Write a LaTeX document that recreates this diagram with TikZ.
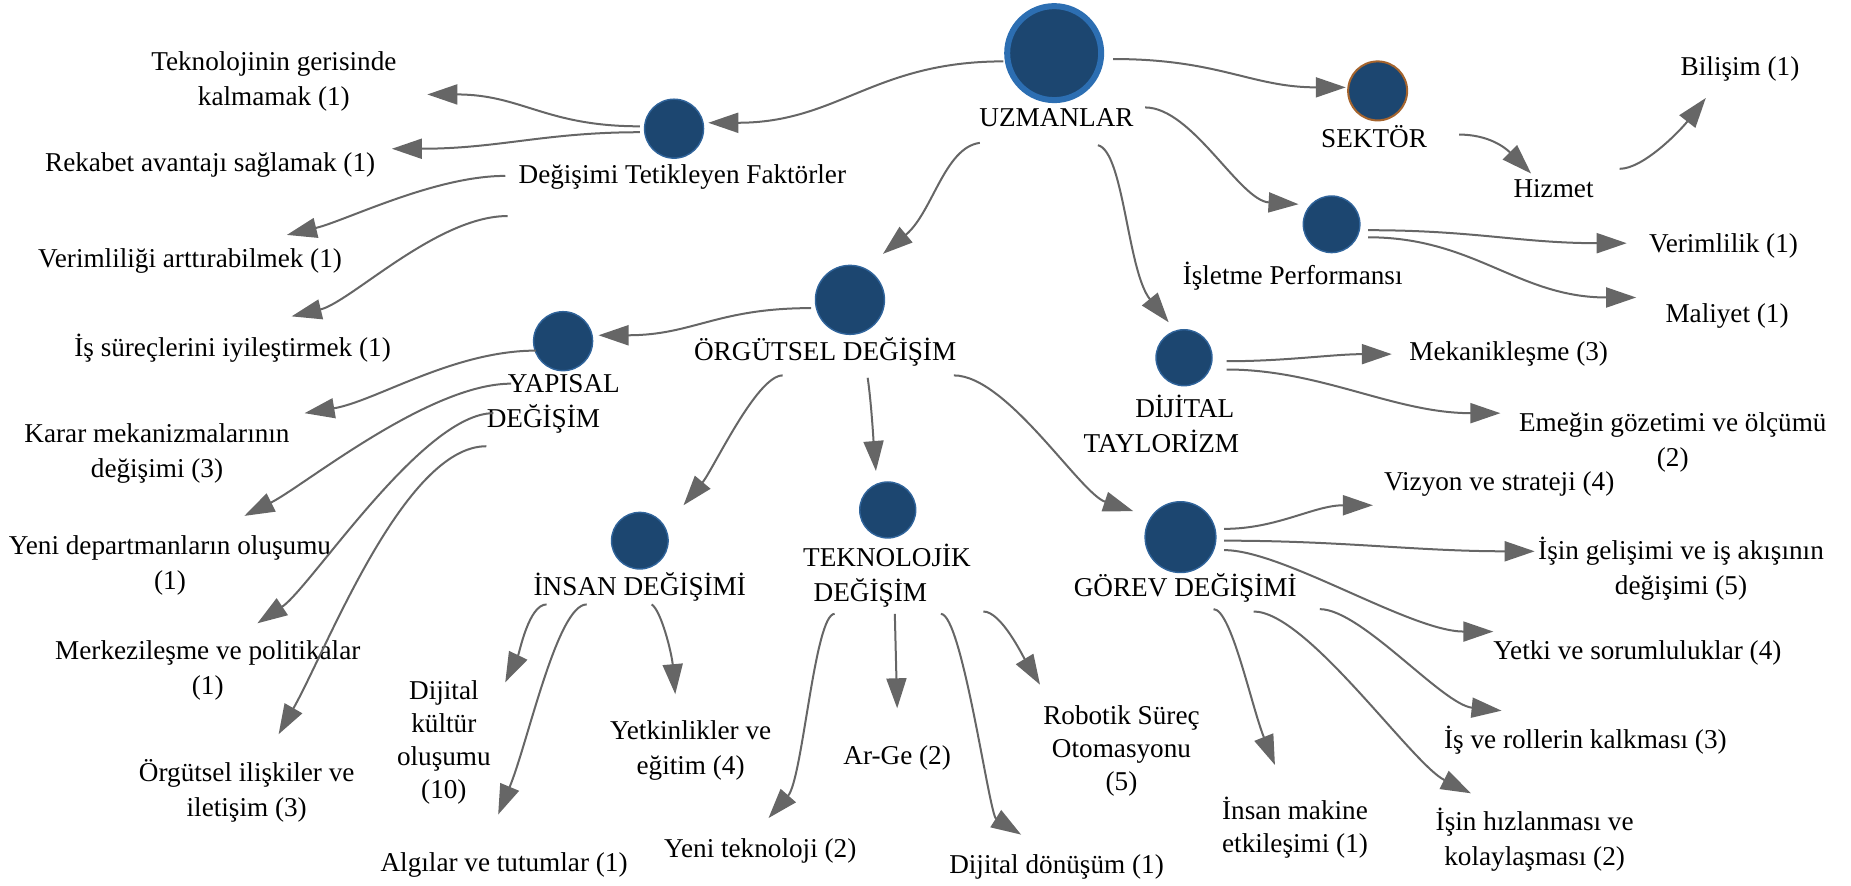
\documentclass[tikz,border=0pt]{standalone}
\usepackage{fontspec}
\setmainfont{Liberation Serif}
\usetikzlibrary{arrows.meta}
\definecolor{hubfill}{RGB}{28,70,112}
\definecolor{hubedge}{RGB}{48,100,155}
\definecolor{ringblue}{RGB}{44,110,178}
\definecolor{sekedge}{RGB}{165,100,45}
\definecolor{linkgray}{RGB}{102,102,102}

\begin{document}
\begin{tikzpicture}[x=0.59025pt,y=-0.59025pt,
  hub/.style={circle,fill=hubfill,draw=hubedge,line width=0.7pt,inner sep=0pt},
  lbl/.style={inner sep=0pt,align=center,font=\fontsize{13.6pt}{17.5pt}\selectfont},
  tight/.style={font=\fontsize{13.6pt}{16.5pt}\selectfont},
  link/.style={draw=linkgray,line width=1pt,-{Triangle[length=15pt,width=10pt]}}]

\path[use as bounding box] (0,0) rectangle (1568,750);

% hubs
\node[hub,minimum size=47pt,draw=ringblue,line width=3pt] (uzm) at (893,45) {};
\node[hub,minimum size=29.5pt,draw=sekedge,line width=1pt] (sek) at (1167,77) {};
\node[hub,minimum size=28.3pt] (isl) at (1128,190) {};
\node[hub,minimum size=29.5pt] (dtf) at (571,109) {};
\node[hub,minimum size=34.5pt] (org) at (720,254) {};
\node[hub,minimum size=29.5pt] (yap) at (477,289) {};
\node[hub,minimum size=28pt] (dij) at (1003,303) {};
\node[hub,minimum size=28.3pt] (ins) at (542,458) {};
\node[hub,minimum size=28pt] (tek) at (752,432) {};
\node[hub,minimum size=35.4pt] (gor) at (1000,455) {};

% labels
\node[lbl] (uzmL) at (895,100) {UZMANLAR};
\node[lbl] (sekL) at (1164,116) {SEKTÖR};
\node[lbl] (hizL) at (1316,160) {Hizmet};
\node[lbl] (bilL) at (1474,58) {Bilişim (1)};
\node[lbl] (islL) at (1095,234) {İşletme Performansı};
\node[lbl] (verL) at (1460,208) {Verimlilik (1)};
\node[lbl] (malL) at (1463,268) {Maliyet (1)};
\node[lbl] (dtfL) at (578,150) {Değişimi Tetikleyen Faktörler};
\node[lbl] (tgL) at (232,69) {Teknolojinin gerisinde\\kalmamak (1)};
\node[lbl] (rekL) at (178,140) {Rekabet avantajı sağlamak (1)};
\node[lbl] (vaL) at (161,221) {Verimliliği arttırabilmek (1)};
\node[lbl] (isL) at (197,295) {İş süreçlerini iyileştirmek (1)};
\node[lbl] (orgL) at (699,298) {ÖRGÜTSEL DEĞİŞİM};
\node[lbl,align=left,anchor=west] (yapL) at (412,342) {\hspace*{10.6pt}YAPISAL\\DEĞİŞİM};
\node[lbl] (karL) at (133,384) {Karar mekanizmalarının\\değişimi (3)};
\node[lbl] (yenL) at (144,479) {Yeni departmanların oluşumu\\(1)};
\node[lbl] (merL) at (176,568) {Merkezileşme ve politikalar\\(1)};
\node[lbl] (oiL) at (209,670) {Örgütsel ilişkiler ve\\iletişim (3)};
\node[lbl,align=right,anchor=east] (dijL) at (1050,359) {DİJİTAL\hspace*{2.4pt}\\TAYLORİZM};
\node[lbl] (mekL) at (1278,300) {Mekanikleşme (3)};
\node[lbl] (emL) at (1417,375) {Emeğin gözetimi ve ölçümü\\(2)};
\node[lbl] (insL) at (542,497) {İNSAN DEĞİŞİMİ};
\node[lbl,tight] (dkL) at (376,629) {Dijital\\kültür\\oluşumu\\(10)};
\node[lbl] (algL) at (427,733) {Algılar ve tutumlar (1)};
\node[lbl] (ykL) at (585,636) {Yetkinlikler ve\\eğitim (4)};
\node[lbl,align=left,anchor=west] (tekL) at (680,488) {TEKNOLOJİK\\\hspace*{5.3pt}DEĞİŞİM};
\node[lbl] (ytL) at (644,721) {Yeni teknoloji (2)};
\node[lbl] (agL) at (760,642) {Ar-Ge (2)};
\node[lbl] (ddL) at (895,734) {Dijital dönüşüm (1)};
\node[lbl,tight] (robL) at (950,636) {Robotik Süreç\\Otomasyonu\\(5)};
\node[lbl] (gorL) at (1004,498) {GÖREV DEĞİŞİMİ};
\node[lbl] (vizL) at (1270,410) {Vizyon ve strateji (4)};
\node[lbl] (igL) at (1424,482) {İşin gelişimi ve iş akışının\\değişimi (5)};
\node[lbl] (yetL) at (1387,553) {Yetki ve sorumluluklar (4)};
\node[lbl] (irL) at (1343,627) {İş ve rollerin kalkması (3)};
\node[lbl] (ihL) at (1300,711) {İşin hızlanması ve\\kolaylaşması (2)};
\node[lbl,tight] (imL) at (1097,701) {İnsan makine\\etkileşimi (1)};

% UZMANLAR
\draw[link] ([shift={(-43,7)}]uzm.center) .. controls +(-110,0) and +(110,0) .. ([shift={(29,-5)}]dtf.center);
\draw[link] ([shift={(50,5)}]uzm.center) .. controls +(90,0) and +(-80,0) .. ([shift={(-27,-3)}]sek.center);
\draw[link] ([shift={(75,-9)}]uzmL.center) .. controls +(40,0) and +(-50,-3) .. ([shift={(-28,-17)}]isl.center);
\draw[link] ([shift={(-65,21)}]uzmL.center) .. controls +(-30,4) and +(42,-35) .. ([shift={(28,-39)}]org.center);
\draw[link] ([shift={(35,23)}]uzmL.center) .. controls +(22,5) and +(-35,-43) .. ([shift={(-13,-30)}]dij.center);

% Değişimi Tetikleyen Faktörler
\draw[link] ([shift={(-29,-2)}]dtf.center) .. controls +(-80,0) and +(80,0) .. ([shift={(130,11)}]tgL.center);
\draw[link] ([shift={(-29,3)}]dtf.center) .. controls +(-80,0) and +(90,0) .. ([shift={(154,-14)}]rekL.center);
\draw[link] ([shift={(-150,-1)}]dtfL.center) .. controls +(-60,0) and +(50,-12) .. ([shift={(82,-22)}]vaL.center);
\draw[link] ([shift={(-148,33)}]dtfL.center) .. controls +(-60,0) and +(50,-12) .. ([shift={(50,-27)}]isL.center);

% SEKTÖR
\draw[link] ([shift={(72,-2)}]sekL.center) .. controls +(25,0) and +(-22,-22) .. ([shift={(-19,-13)}]hizL.center);
\draw[link] ([shift={(56,-17)}]hizL.center) .. controls +(20,0) and +(-22,28) .. ([shift={(-29,25)}]bilL.center);

% İşletme Performansı
\draw[link] ([shift={(31,5)}]isl.center) .. controls +(90,0) and +(-90,0) .. ([shift={(-82,-2)}]verL.center);
\draw[link] ([shift={(31,11)}]isl.center) .. controls +(90,0) and +(-100,0) .. ([shift={(-77,-16)}]malL.center);

% ÖRGÜTSEL DEĞİŞİM
\draw[link] ([shift={(-33,7)}]org.center) .. controls +(-80,0) and +(80,0) .. ([shift={(30,-5)}]yap.center);
\draw[link] ([shift={(-36,20)}]orgL.center) .. controls +(-22,0) and +(25,-30) .. ([shift={(37,-30)}]ins.center);
\draw[link] ([shift={(36,22)}]orgL.center) .. controls +(3,20) and +(-2,-25) .. ([shift={(-10,-33)}]tek.center);
\draw[link] ([shift={(109,20)}]orgL.center) .. controls +(45,0) and +(-45,-15) .. ([shift={(-40,-22)}]gor.center);

% YAPISAL DEĞİŞİM
\draw[link] ([shift={(-23,8)}]yap.center) .. controls +(-70,0) and +(60,-10) .. ([shift={(125,-34)}]karL.center);
\draw[link] ([shift={(21,-17)}]yapL.west) .. controls +(-70,0) and +(50,-25) .. ([shift={(63,-42)}]yenL.center);
\draw[link] ([shift={(6,8)}]yapL.west) .. controls +(-60,0) and +(45,-30) .. ([shift={(42,-40)}]merL.center);
\draw[link] ([shift={(0,36)}]yapL.west) .. controls +(-70,0) and +(40,-70) .. ([shift={(27,-48)}]oiL.center);

% DİJİTAL TAYLORİZM
\draw[link] ([shift={(36,3)}]dij.center) .. controls +(50,0) and +(-50,0) .. ([shift={(-99,0)}]mekL.center);
\draw[link] ([shift={(36,10)}]dij.center) .. controls +(80,0) and +(-90,0) .. ([shift={(-146,-25)}]emL.center);

% İNSAN DEĞİŞİMİ
\draw[link] ([shift={(-79,15)}]insL.center) .. controls +(-15,0) and +(12,-25) .. ([shift={(52,-51)}]dkL.center);
\draw[link] ([shift={(-45,15)}]insL.center) .. controls +(-25,0) and +(25,-60) .. ([shift={(-5,-43)}]algL.center);
\draw[link] ([shift={(10,15)}]insL.center) .. controls +(8,5) and +(-3,-35) .. ([shift={(-13,-48)}]ykL.center);

% TEKNOLOJİK DEĞİŞİM
\draw[link] ([shift={(27,32)}]tekL.west) .. controls +(-17,0) and +(29,-33) .. ([shift={(7,-28)}]ytL.center);
\draw[link] ([shift={(78,32)}]tekL.west) -- ([shift={(0,-42)}]agL.center);
\draw[link] ([shift={(117,32)}]tekL.west) .. controls +(18,0) and +(-27,-17) .. ([shift={(-30,-27)}]ddL.center);
\draw[link] ([shift={(153,30)}]tekL.west) .. controls +(15,0) and +(-15,-25) .. ([shift={(-69,-56)}]robL.center);

% GÖREV DEĞİŞİMİ
\draw[link] ([shift={(37,-7)}]gor.center) .. controls +(45,0) and +(-50,0) .. ([shift={(-107,18)}]vizL.center);
\draw[link] ([shift={(37,3)}]gor.center) .. controls +(100,0) and +(-100,0) .. ([shift={(-124,-15)}]igL.center);
\draw[link] ([shift={(37,11)}]gor.center) .. controls +(50,0) and +(-70,0) .. ([shift={(-122,-18)}]yetL.center);
\draw[link] ([shift={(114,18)}]gorL.center) .. controls +(35,0) and +(-50,-5) .. ([shift={(-71,-25)}]irL.center);
\draw[link] ([shift={(58,20)}]gorL.center) .. controls +(45,0) and +(-50,-25) .. ([shift={(-54,-39)}]ihL.center);
\draw[link] ([shift={(24,18)}]gorL.center) .. controls +(15,0) and +(-20,-50) .. ([shift={(-17,-53)}]imL.center);

\end{tikzpicture}
\end{document}
